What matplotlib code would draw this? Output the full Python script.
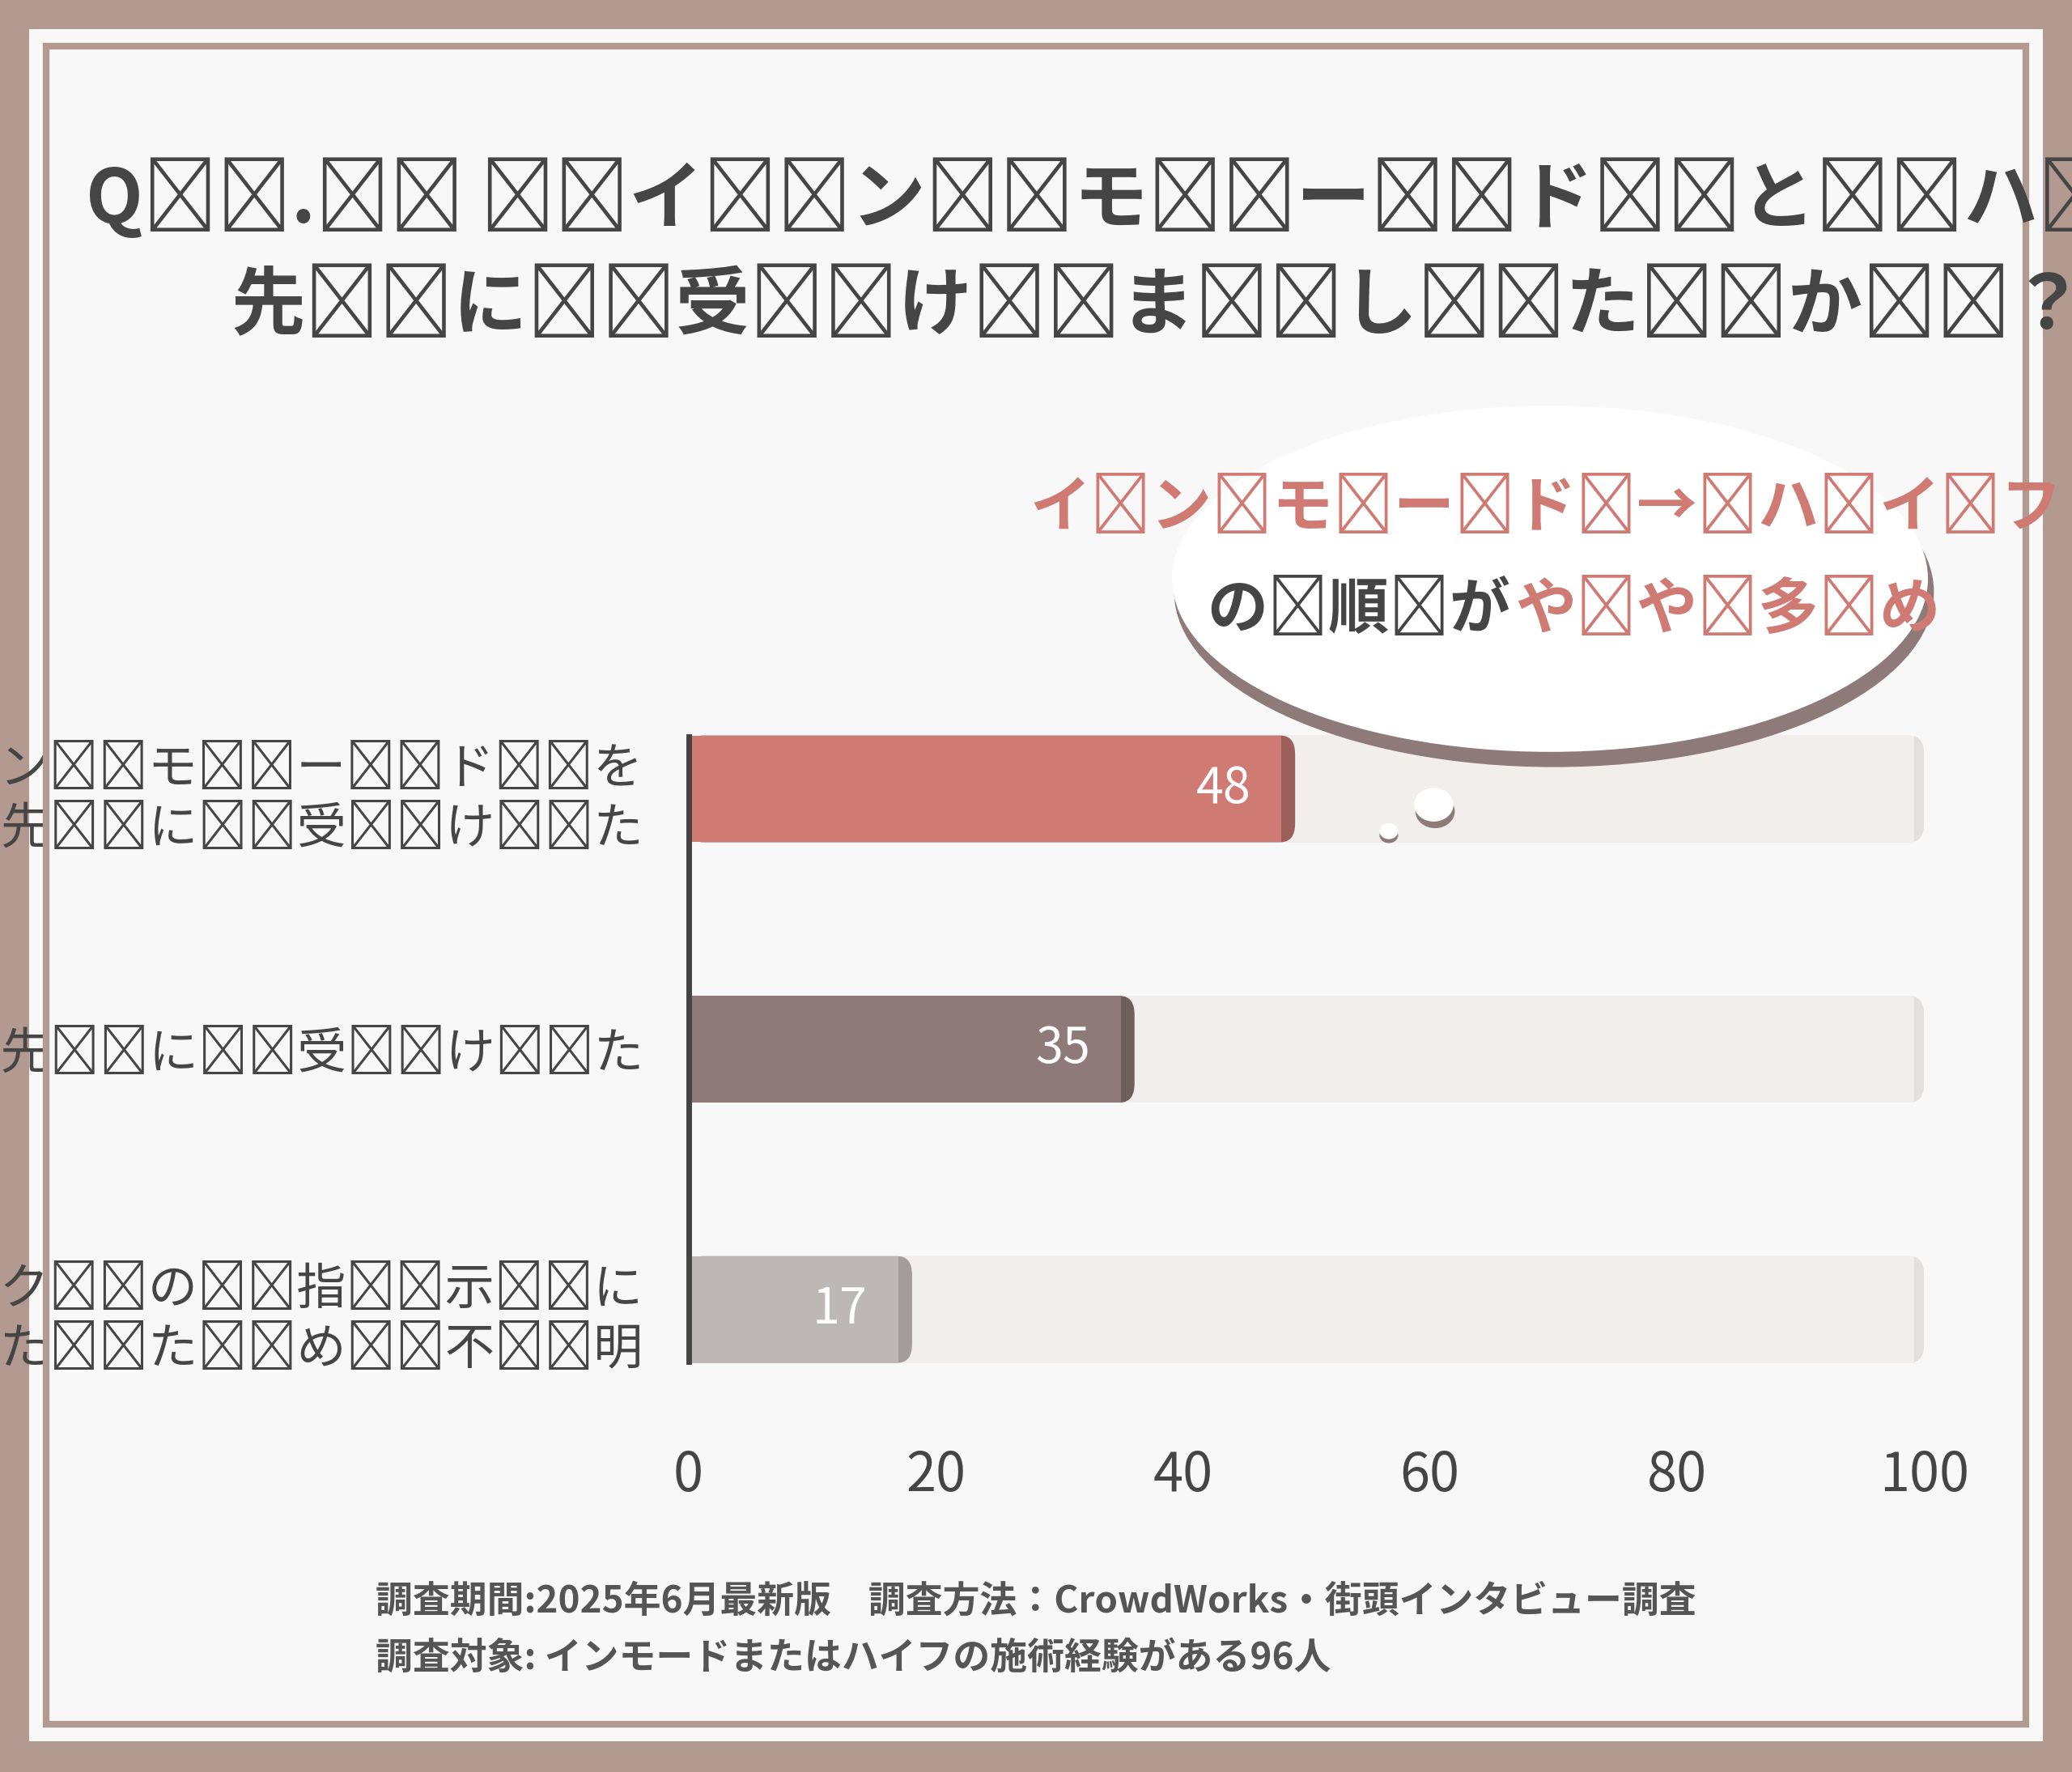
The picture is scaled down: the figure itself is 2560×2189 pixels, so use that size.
import matplotlib
matplotlib.use("Agg")
import matplotlib.pyplot as plt
from matplotlib.patches import Rectangle, Ellipse, FancyBboxPatch, Circle

# ================= DATA =================
CATEGORIES = ["インモードを\n先に受けた", "ハイフを先に受けた", "クリニックの指示に\n従ったため不明"]
VALUES = [48, 35, 17]
XTICKS = [0, 20, 40, 60, 80, 100]
BAR_COLORS = ["#d07a74", "#8e7a78", "#bdb8b6"]
SHADOW_COLORS = ["#9c5f5a", "#6e5e5c", "#a29c9a"]
TITLE_1 = "Q. インモードとハイフの施術順序はどちらを"
TITLE_2 = "先に受けましたか？（併用経験者）"
FOOT_1 = "調査期間:2025年6月最新版　調査方法：CrowdWorks・街頭インタビュー調査"
FOOT_2 = "調査対象: インモードまたはハイフの施術経験がある96人"
# =======================================

FONT = "Noto Sans CJK JP"
W, H = 1568, 1341  # layout units (reference preview pixels)
SP = "\u2009"


def fx(x):
    return x / W


def fy(y):
    return 1 - y / H


def track(s, sep=SP):
    # loose letter spacing like the original artwork
    return "\n".join(sep.join(line) for line in s.split("\n"))


fig = plt.figure(figsize=(25.6, 21.89), dpi=100)
fig.patch.set_facecolor("#b39a90")

# panel + inner frame
fig.add_artist(Rectangle((fx(22), fy(1318)), fx(1524), 1296 / H, transform=fig.transFigure,
                         facecolor="#f8f8f8", edgecolor="none", zorder=0))
fig.add_artist(Rectangle((fx(35), fy(1305)), fx(1498), 1270 / H, transform=fig.transFigure,
                         facecolor="none", edgecolor="#b39a90", lw=6, zorder=1))

# title
fig.text(fx(65), fy(150), track(TITLE_1, SP * 2), fontsize=66, fontweight="bold", color="#454545",
         family=FONT, va="center", ha="left")
fig.text(fx(175), fy(232), track(TITLE_2, SP * 2), fontsize=66, fontweight="bold", color="#454545",
         family=FONT, va="center", ha="left")

# chart axes
ax = fig.add_axes([fx(521), fy(1089.5), fx(1456 - 521), (1089.5 - 498.5) / H])
ax.set_facecolor("none")
ypos = list(range(len(CATEGORIES)))
bh = 0.41
for y, v, c, sc in zip(ypos, VALUES, BAR_COLORS, SHADOW_COLORS):
    ax.add_patch(FancyBboxPatch((0, y - bh / 2), 100, bh, boxstyle="round,pad=0,rounding_size=1.2",
                                mutation_aspect=0.06, facecolor="#e4e0de", edgecolor="none", zorder=1))
    ax.add_patch(Rectangle((0, y - bh / 2), 99.2, bh, facecolor="#f2eeec", edgecolor="none", zorder=1.5))
    ax.add_patch(FancyBboxPatch((0, y - bh / 2), v + 1.1, bh, boxstyle="round,pad=0,rounding_size=1.2",
                                mutation_aspect=0.06, facecolor=sc, edgecolor="none", zorder=2))
    ax.barh(y, v, height=bh, color=c, zorder=3)
    ax.text(v - 2.5, y, str(v), ha="right", va="center", color="white", fontsize=44,
            family=FONT, zorder=4)

ax.set_xlim(0, 100)
ax.set_ylim(len(CATEGORIES) - 0.5, -0.5)
ax.set_yticks(ypos)
ax.set_yticklabels([track(c, SP * 2) for c in CATEGORIES], fontsize=44, color="#454545",
                   family=FONT, linespacing=1.25)
ax.set_xticks(XTICKS)
ax.set_xticklabels([str(t) for t in XTICKS], fontsize=48, color="#454545", family=FONT)
ax.tick_params(length=0)
ax.tick_params(axis="y", pad=40)
ax.tick_params(axis="x", pad=8)
for s in ["top", "right", "bottom"]:
    ax.spines[s].set_visible(False)
ax.spines["left"].set_color("#444444")
ax.spines["left"].set_linewidth(5)
ax.spines["left"].set_bounds(-0.2, 2.2)
ax.spines["left"].set_zorder(5)

# speech bubble
fig.add_artist(Ellipse((fx(1176), fy(448)), fx(575), 265 / H, transform=fig.transFigure,
                       facecolor="#8e7a78", edgecolor="none", zorder=6))
fig.add_artist(Ellipse((fx(1173), fy(438)), fx(572), 262 / H, transform=fig.transFigure,
                       facecolor="white", edgecolor="none", zorder=7))
fig.add_artist(Circle((fx(1086), fy(614)), 0.0095, transform=fig.transFigure,
                      facecolor="#8e7a78", zorder=6))
fig.add_artist(Circle((fx(1085), fy(609)), 0.0095, transform=fig.transFigure,
                      facecolor="white", zorder=7))
fig.add_artist(Circle((fx(1051), fy(632)), 0.0045, transform=fig.transFigure,
                      facecolor="#8e7a78", zorder=6))
fig.add_artist(Circle((fx(1051), fy(629)), 0.0045, transform=fig.transFigure,
                      facecolor="white", zorder=7))
fig.text(fx(1170), fy(385), track("インモード→ハイフ"), fontsize=54, fontweight="bold", color="#d07a74",
         family=FONT, ha="center", va="center", zorder=8)
fig.text(fx(1143), fy(462), track("の順が"), fontsize=54, fontweight="bold", color="#454545",
         family=FONT, ha="right", va="center", zorder=8)
fig.text(fx(1147), fy(462), track("やや多め"), fontsize=54, fontweight="bold", color="#d07a74",
         family=FONT, ha="left", va="center", zorder=8)

# footer
fig.text(fx(284), fy(1212), FOOT_1, fontsize=33, fontweight="bold", color="#555555",
         family=FONT, va="center")
fig.text(fx(284), fy(1255), FOOT_2, fontsize=33, fontweight="bold", color="#555555",
         family=FONT, va="center")

fig.savefig("out.png", dpi=100, facecolor=fig.get_facecolor())
